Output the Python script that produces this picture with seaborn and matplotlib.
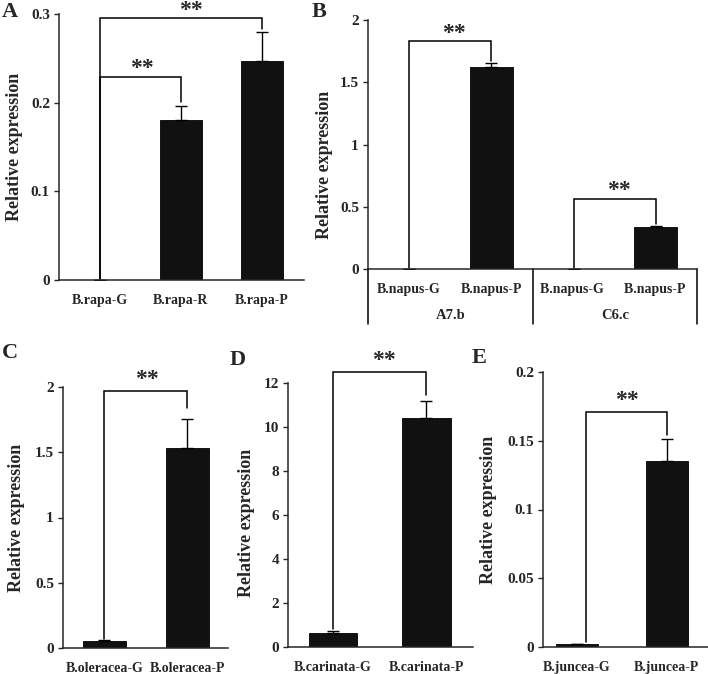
import matplotlib
matplotlib.use('Agg')
import matplotlib.pyplot as plt
import matplotlib.transforms as mtransforms
import seaborn as sns
import pandas as pd

sns.set_style('ticks')
plt.rcParams['font.family'] = ['Liberation Serif', 'DejaVu Serif']
plt.rcParams['font.weight'] = 'bold'

# data
a_labels = ['B.rapa-G', 'B.rapa-R', 'B.rapa-P']
a_values = [0.0005, 0.180, 0.247]
a_errors = [0.0, 0.016, 0.033]

b_labels = ['B.napus-G', 'B.napus-P', 'B.napus-G ', 'B.napus-P ']
b_values = [0.003, 1.625, 0.003, 0.335]
b_errors = [0.0, 0.030, 0.0, 0.012]
b_groups = ['A7.b', 'C6.c']

c_labels = ['B.oleracea-G', 'B.oleracea-P']
c_values = [0.05, 1.535]
c_errors = [0.015, 0.22]

d_labels = ['B.carinata-G', 'B.carinata-P']
d_values = [0.65, 10.4]
d_errors = [0.10, 0.80]

e_labels = ['B.juncea-G', 'B.juncea-P']
e_values = [0.0025, 0.135]
e_errors = [0.0, 0.016]

BAR = '#111111'
W, H = 708, 674

fig = plt.figure(figsize=(7.08, 6.74), dpi=100)


def make_ax(l, r, t, b):
    return fig.add_axes([l / W, 1 - b / H, (r - l) / W, (b - t) / H])


def draw_bars(ax, labels, values, errors, ymax, ticks, width=0.52):
    df = pd.DataFrame({'sample': labels, 'value': values})
    sns.barplot(data=df, x='sample', y='value', color=BAR, width=width,
                errorbar=None, saturation=1, edgecolor='black', linewidth=0.6, ax=ax)
    ax.errorbar(range(len(values)), values, yerr=[[0] * len(errors), errors],
                fmt='none', ecolor='black', elinewidth=1.0, capsize=4.5, capthick=1.0)
    ax.set_ylim(0, ymax)
    ax.set_yticks(ticks)
    ax.set_yticklabels(['{:g}'.format(t) for t in ticks], fontsize=11, fontweight='bold')
    ax.set_xlabel('')
    ax.set_ylabel('Relative expression', fontsize=13, fontweight='bold')
    ax.tick_params(axis='x', length=0, pad=10, labelsize=10)
    ax.tick_params(axis='y', length=3.5, width=1, direction='out', pad=3)
    for lab in ax.get_xticklabels():
        lab.set_fontweight('bold')
    sns.despine(ax=ax)
    for s in ['left', 'bottom']:
        ax.spines[s].set_linewidth(1.1)


def bracket(ax, x0, x1, y, y0, y1, sx, sy):
    ax.plot([x0, x0, x1, x1], [y0, y, y, y1], color='black', lw=1.1,
            clip_on=False, solid_joinstyle='miter')
    ax.text(sx, sy, '**', ha='center', va='center', fontsize=17,
            fontweight='bold', clip_on=False)


# panel A
ax = make_ax(59, 304, 14, 280)
draw_bars(ax, a_labels, a_values, a_errors, 0.3, [0, 0.1, 0.2, 0.3])
ax.set_xlim(-0.5, 2.52)
ax.yaxis.set_label_coords(-0.147, 0.5)
bracket(ax, 0, 1, 0.229, 0.001, 0.201, 0.52, 0.238)
bracket(ax, 0, 2, 0.296, 0.001, 0.283, 1.12, 0.304)

# panel B
ax = make_ax(368, 697, 20, 269)
draw_bars(ax, b_labels, b_values, b_errors, 2, [0, 0.5, 1, 1.5, 2])
ax.set_xlim(-0.5, 3.5)
ax.yaxis.set_label_coords(-0.106, 0.42)
bracket(ax, 0, 1, 1.83, 0.01, 1.67, 0.55, 1.89)
bracket(ax, 2, 3, 0.565, 0.01, 0.36, 2.55, 0.63)
trans = mtransforms.blended_transform_factory(ax.transData, ax.transAxes)
for xv in [-0.5, 1.5, 3.5]:
    ax.plot([xv, xv], [0, -0.22], color='black', lw=1.1, transform=trans, clip_on=False)
for i, g in enumerate(b_groups):
    ax.text(0.5 + 2 * i, -0.185, g, transform=trans, ha='center', va='center',
            fontsize=10.5, fontweight='bold')

# panel C
ax = make_ax(63, 228, 387, 648)
draw_bars(ax, c_labels, c_values, c_errors, 2, [0, 0.5, 1, 1.5, 2])
ax.set_xlim(-0.5, 1.49)
ax.yaxis.set_label_coords(-0.23, 0.5)
bracket(ax, 0, 1, 1.97, 0.07, 1.84, 0.51, 2.06)

# panel D
ax = make_ax(288, 473, 383, 647)
draw_bars(ax, d_labels, d_values, d_errors, 12, [0, 2, 4, 6, 8, 10, 12])
ax.set_xlim(-0.48, 1.5)
ax.yaxis.set_label_coords(-0.178, 0.47)
bracket(ax, 0, 1, 12.5, 0.8, 11.45, 0.55, 13.0)

# panel E
ax = make_ax(543, 708, 372, 647)
draw_bars(ax, e_labels, e_values, e_errors, 0.2, [0, 0.05, 0.1, 0.15, 0.2], width=0.47)
ax.set_xlim(-0.38, 1.46)
ax.yaxis.set_label_coords(-0.28, 0.5)
bracket(ax, 0.1, 1, 0.171, 0.004, 0.154, 0.55, 0.179)

# panel letters
for letter, (px, py) in zip('ABCDE', [(2, 2), (312, 2), (2, 343), (230, 350), (472, 348)]):
    fig.text(px / W, 1 - py / H, letter, ha='left', va='top', fontsize=16, fontweight='bold')

fig.savefig('out.png', dpi=100)
